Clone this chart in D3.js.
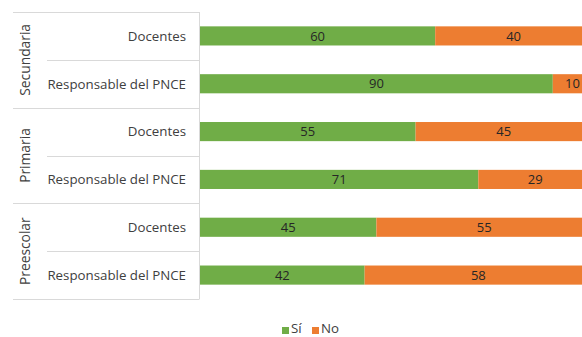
<!DOCTYPE html>
<html>
<head>
<meta charset="utf-8">
<script src="https://cdn.jsdelivr.net/npm/d3@7"></script>
<style>
  html, body { margin: 0; padding: 0; background: #fff; }
  svg { display: block; font-family: "Open Sans", "Noto Sans", sans-serif; }
</style>
</head>
<body>
<svg id="chart" width="582" height="337"></svg>
<script>
// Levels (outer category) and respondent types (inner category)
const groups = ["Secundaria", "Primaria", "Preescolar"];
const roles = ["Docentes", "Responsable del PNCE"];
// Percentages per row, top to bottom
const siValues = [60, 90, 55, 71, 45, 42];
const noValues = [40, 10, 45, 29, 55, 58];
const seriesNames = ["Sí", "No"];
const seriesColors = ["#70AD47", "#ED7D31"];

(function () {
const rows = [];
groups.forEach((g, gi) => roles.forEach((r, ri) => {
  const i = gi * roles.length + ri;
  rows.push({ key: g + "|" + r, group: g, role: r, Si: siValues[i], No: noValues[i] });
}));

const svg = d3.select("#chart");
const plotLeft = 200, plotRight = 592, plotTop = 12, plotBottom = 299;
const labelSize = 13.3;

const x = d3.scaleLinear().domain([0, 100]).range([plotLeft, plotRight]);
const y = d3.scaleBand().domain(rows.map(d => d.key)).range([plotTop, plotBottom])
  .paddingInner(0.6).paddingOuter(0.3);
const step = y.step();

const stack = d3.stack().keys(["Si", "No"]);
const layers = stack(rows);

// Bars
svg.append("g").selectAll("g").data(layers).join("g")
  .attr("fill", (d, i) => seriesColors[i])
  .selectAll("rect").data(d => d).join("rect")
  .attr("x", d => x(d[0]))
  .attr("y", d => y(d.data.key))
  .attr("width", d => x(d[1]) - x(d[0]))
  .attr("height", y.bandwidth());

// Value labels centred in each segment
svg.append("g").selectAll("g").data(layers).join("g")
  .selectAll("text").data(d => d).join("text")
  .attr("x", d => (x(d[0]) + x(d[1])) / 2)
  .attr("y", d => y(d.data.key) + y.bandwidth() / 2)
  .attr("dy", "0.36em")
  .attr("text-anchor", "middle")
  .attr("font-size", 13)
  .attr("fill", "#262626")
  .text(d => d[1] - d[0]);

// Category axis with grouped tick lines
const axis = svg.append("g").attr("stroke", "#d9d9d9").attr("stroke-width", 1);
axis.append("line")
  .attr("x1", plotLeft - 0.5).attr("x2", plotLeft - 0.5)
  .attr("y1", plotTop).attr("y2", plotBottom);
const groupEdge = 13, roleEdge = 47;
for (let i = 0; i <= rows.length; i++) {
  const yy = Math.round(plotTop + i * step) + 0.5;
  const isGroup = i % roles.length === 0;
  axis.append("line")
    .attr("x1", isGroup ? groupEdge : roleEdge).attr("x2", plotLeft - 0.5)
    .attr("y1", yy).attr("y2", yy);
}

// Inner labels
svg.append("g").selectAll("text").data(rows).join("text")
  .attr("x", 186)
  .attr("y", d => y(d.key) + y.bandwidth() / 2)
  .attr("dy", "0.36em")
  .attr("text-anchor", "end")
  .attr("font-size", labelSize)
  .attr("fill", "#404040")
  .text(d => d.role);

// Outer labels, rotated
svg.append("g").selectAll("text").data(groups).join("text")
  .attr("transform", (g, gi) => {
    const cy = plotTop + step * (gi * roles.length + roles.length / 2);
    return `translate(25,${cy}) rotate(-90)`;
  })
  .attr("dy", "0.36em")
  .attr("text-anchor", "middle")
  .attr("font-size", 13.8)
  .attr("fill", "#404040")
  .text(d => d);

// Legend
const legend = svg.append("g").attr("font-size", labelSize).attr("fill", "#404040");
const legendItems = [{ x: 282, name: seriesNames[0], color: seriesColors[0] },
                     { x: 312, name: seriesNames[1], color: seriesColors[1] }];
legendItems.forEach(it => {
  legend.append("rect").attr("x", it.x).attr("y", 327).attr("width", 7).attr("height", 7).attr("fill", it.color);
  legend.append("text").attr("x", it.x + 9).attr("y", 333).text(it.name);
});
})();
</script>
</body>
</html>
